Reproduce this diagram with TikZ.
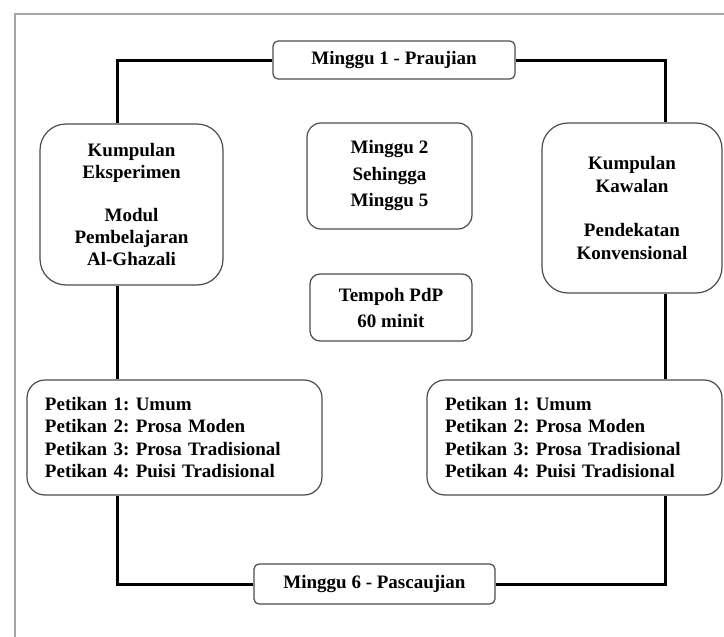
\documentclass[tikz,border=0pt]{standalone}
\usepackage{fontspec}
\setmainfont{Liberation Serif}
\frenchspacing
\begin{document}
\begin{tikzpicture}[x=1pt,y=-1pt,
  txt/.style={font=\fontsize{19}{22.5}\selectfont\bfseries},
  boxbase/.style={draw=black!70, line width=1.2pt, fill=white, rectangle, inner sep=0pt, align=center, txt},
  smallbox/.style={boxbase, rounded corners=5pt},
  bigbox/.style={boxbase, rounded corners=26pt},
  midbox/.style={boxbase, rounded corners=14pt},
  listbox/.style={boxbase, rounded corners=18pt, align=left, inner xsep=18pt, text width=259pt},
  conn/.style={line width=3pt, black},
  frameline/.style={line width=2pt, black!35}
]
\useasboundingbox (0,0) rectangle (724,637);
\fill[white] (0,0) rectangle (724,637);
\draw[frameline] (15,637) -- (15,14) -- (724,14);

\node[smallbox, minimum width=242pt, minimum height=38pt] (top) at (394,60) {Minggu 1 - Praujian};
\node[smallbox, minimum width=241pt, minimum height=40pt] (bot) at (374.5,584) {Minggu 6 - Pascaujian};

\node[bigbox, minimum width=183pt, minimum height=161pt] (lbox) at (131.5,204.5)
  {Kumpulan\\Eksperimen\\[20pt]Modul\\Pembelajaran\\Al-Ghazali};
\node[bigbox, minimum width=180pt, minimum height=170pt] (rbox) at (632,208)
  {Kumpulan\\Kawalan\\[22pt]Pendekatan\\Konvensional};

\node[midbox, minimum width=165pt, minimum height=106pt, font=\fontsize{19}{26.5}\selectfont\bfseries] (mweek) at (389.5,176)
  {Minggu 2\\Sehingga\\Minggu 5};
\node[midbox, rounded corners=10pt, minimum width=162pt, minimum height=67pt, font=\fontsize{19}{26}\selectfont\bfseries] (mtime) at (391,307.5)
  {Tempoh PdP\\60 minit};

\node[listbox, minimum height=115pt] (llist) at (174.5,437.5)
  {Petikan 1: Umum\\Petikan 2: Prosa Moden\\Petikan 3: Prosa Tradisional\\Petikan 4: Puisi Tradisional};
\node[listbox, minimum height=115pt] (rlist) at (574.5,437.5)
  {Petikan 1: Umum\\Petikan 2: Prosa Moden\\Petikan 3: Prosa Tradisional\\Petikan 4: Puisi Tradisional};

\coordinate (cl) at (117,60);
\coordinate (cr) at (665,60);

\draw[conn] (top.west) -- (cl) -- (cl |- lbox.north);
\draw[conn] (lbox.south -| cl) -- (llist.north -| cl);
\draw[conn] (llist.south -| cl) |- (bot.west);

\draw[conn] (top.east) -- (cr) -- (cr |- rbox.north);
\draw[conn] (rbox.south -| cr) -- (rlist.north -| cr);
\draw[conn] (rlist.south -| cr) |- (bot.east);
\end{tikzpicture}
\end{document}
